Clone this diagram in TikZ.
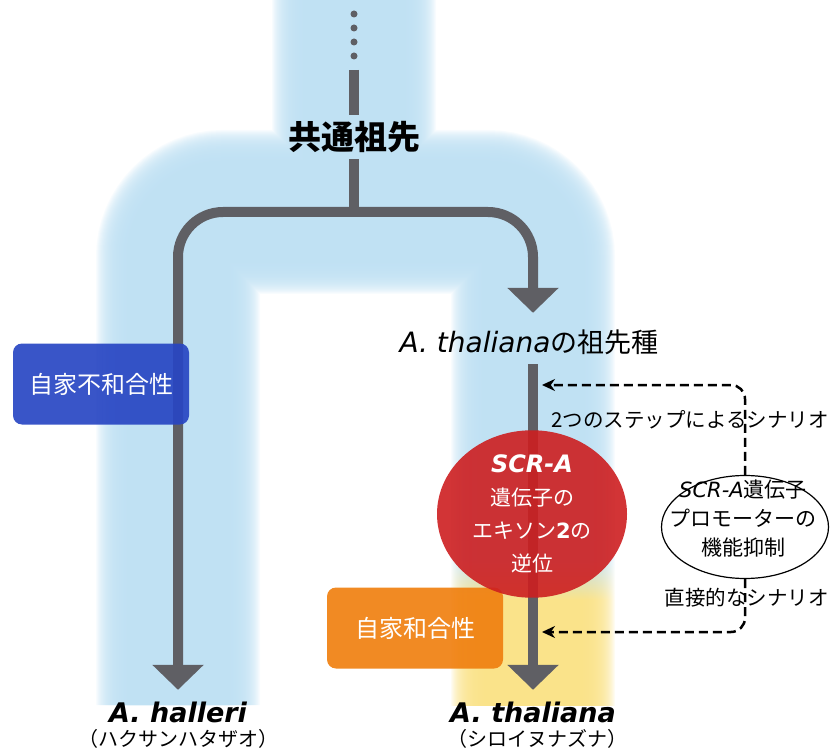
\documentclass[tikz,border=0pt]{standalone}
\usepackage{fontspec}
\setmainfont{Noto Sans CJK JP}
\newfontfamily\latin{DejaVu Sans}
\usetikzlibrary{arrows.meta,shapes.geometric,positioning}
\definecolor{bandblue}{RGB}{190,224,243}
\definecolor{bandyellow}{RGB}{250,226,135}
\definecolor{treegray}{RGB}{95,95,100}
\definecolor{boxblue}{RGB}{40,70,195}
\definecolor{boxorange}{RGB}{240,128,16}
\definecolor{invred}{RGB}{205,30,32}
\pgfdeclarelayer{band}
\pgfdeclarelayer{tree}
\pgfsetlayers{band,tree,main}
\pgfdeclareverticalshading{bandfade}{100bp}{color(0bp)=(bandyellow); color(57bp)=(bandyellow); color(69bp)=(bandblue); color(100bp)=(bandblue)}

\begin{document}
\begin{tikzpicture}[x=1pt,y=-1pt,
    tree/.style={draw=treegray,line width=10pt},
    treearrow/.style={tree,-{Triangle[width=50pt,length=25pt]}},
    scen/.style={line width=2.5pt,dash pattern=on 9pt off 5pt,rounded corners=14pt,-{Stealth[length=13pt,width=12pt]}},
    trait/.style={rounded corners=9pt,minimum width=176pt,minimum height=81pt,text=white,fill opacity=0.92,text opacity=1,font=\fontsize{24}{28}\selectfont},
    species/.style={font=\latin\bfseries\itshape\fontsize{27}{30}\selectfont,inner sep=0pt,minimum height=40pt},
    jname/.style={font=\fontsize{20}{22}\selectfont,inner sep=0pt},
    note/.style={font=\fontsize{20.5}{22}\selectfont,inner sep=0pt,anchor=east}]
    \useasboundingbox (0,0) rectangle (830,751);

    \node[font=\bfseries\fontsize{33}{36}\selectfont,inner sep=0pt,minimum height=44pt] (anc) at (354,137) {共通祖先};
    \node[font=\fontsize{27}{30}\selectfont,inner sep=0pt,minimum height=44pt] (ancsp) at (529,342) {{\latin\itshape\fontsize{28}{30}\selectfont A. thaliana}の祖先種};
    \node[species] (halleri) at (178,712) {A. halleri};
    \node[jname] (halleriJ) at (178,739) {（ハクサンハタザオ）};
    \node[species] (thaliana) at (533,712) {A. thaliana};
    \node[jname] (thalianaJ) at (537,739) {（シロイヌナズナ）};

    \node[trait,fill=boxblue] (selfinc) at (101,384) {自家不和合性};
    \node[trait,fill=boxorange] (selfcomp) at (415,628) {自家和合性};
    \node[ellipse,fill=invred,fill opacity=0.9,text opacity=1,text=white,minimum width=190pt,minimum height=146pt,inner sep=0pt,align=center,font=\fontsize{21}{33}\selectfont] (inv) at (532,514)
      {{\latin\bfseries\itshape\fontsize{24}{33}\selectfont SCR-A}\\遺伝子の\\エキソン{\latin\bfseries 2}の\\逆位};

    \node[ellipse,draw=black,line width=1.2pt,fill=white,fill opacity=0.85,minimum width=167pt,minimum height=103pt] (prom) at (745,527) {};
    \node[align=center,font=\fontsize{21}{29}\selectfont,inner sep=0pt] (promtxt) at (743,519) {{\latin\itshape SCR-A}遺伝子\\プロモーターの\\機能抑制};
    \node[note] (steplbl) at (829,420) {2つのステップによるシナリオ};
    \node[note] (directlbl) at (829,598) {直接的なシナリオ};

    \coordinate (top) at (354,70);
    \coordinate (fork) at (354,212);
    \coordinate (stepin) at (542,385);
    \coordinate (directin) at (542,632);

    % background bands
    \begin{pgfonlayer}{band}
      \foreach \w in {96,98,...,164} {
        \draw[bandblue,line width=\w pt,opacity=0.1,rounded corners=45pt] (354,-5) -- (fork)
          (178,705) -- (fork -| halleri) -- (fork -| thaliana) -- (533,540);
        \shade[shading=bandfade,opacity=0.1] (533-\w/2,540) rectangle (533+\w/2,705);
      }
    \end{pgfonlayer}

    % lineage
    \begin{pgfonlayer}{tree}
      \foreach \y in {14,28,42,56} \fill[treegray] (354,\y) circle (3.5pt);
      \draw[tree] (top) -- (anc.north);
      \draw[tree] (anc.south) -- ([yshift=-5pt]fork);
      \draw[treearrow,rounded corners=45pt] (fork) -- (fork -| halleri) -- ([yshift=2pt]halleri.north);
      \draw[treearrow,rounded corners=45pt] (fork) -- (fork -| thaliana) -- ([yshift=7pt]thaliana |- ancsp.north);
      \draw[treearrow] (thaliana |- ancsp.south) -- ([yshift=2pt]thaliana.north);
    \end{pgfonlayer}

    \draw[scen] (prom.north) |- (stepin);
    \draw[scen] (prom.south) |- (directin);
\end{tikzpicture}
\end{document}
